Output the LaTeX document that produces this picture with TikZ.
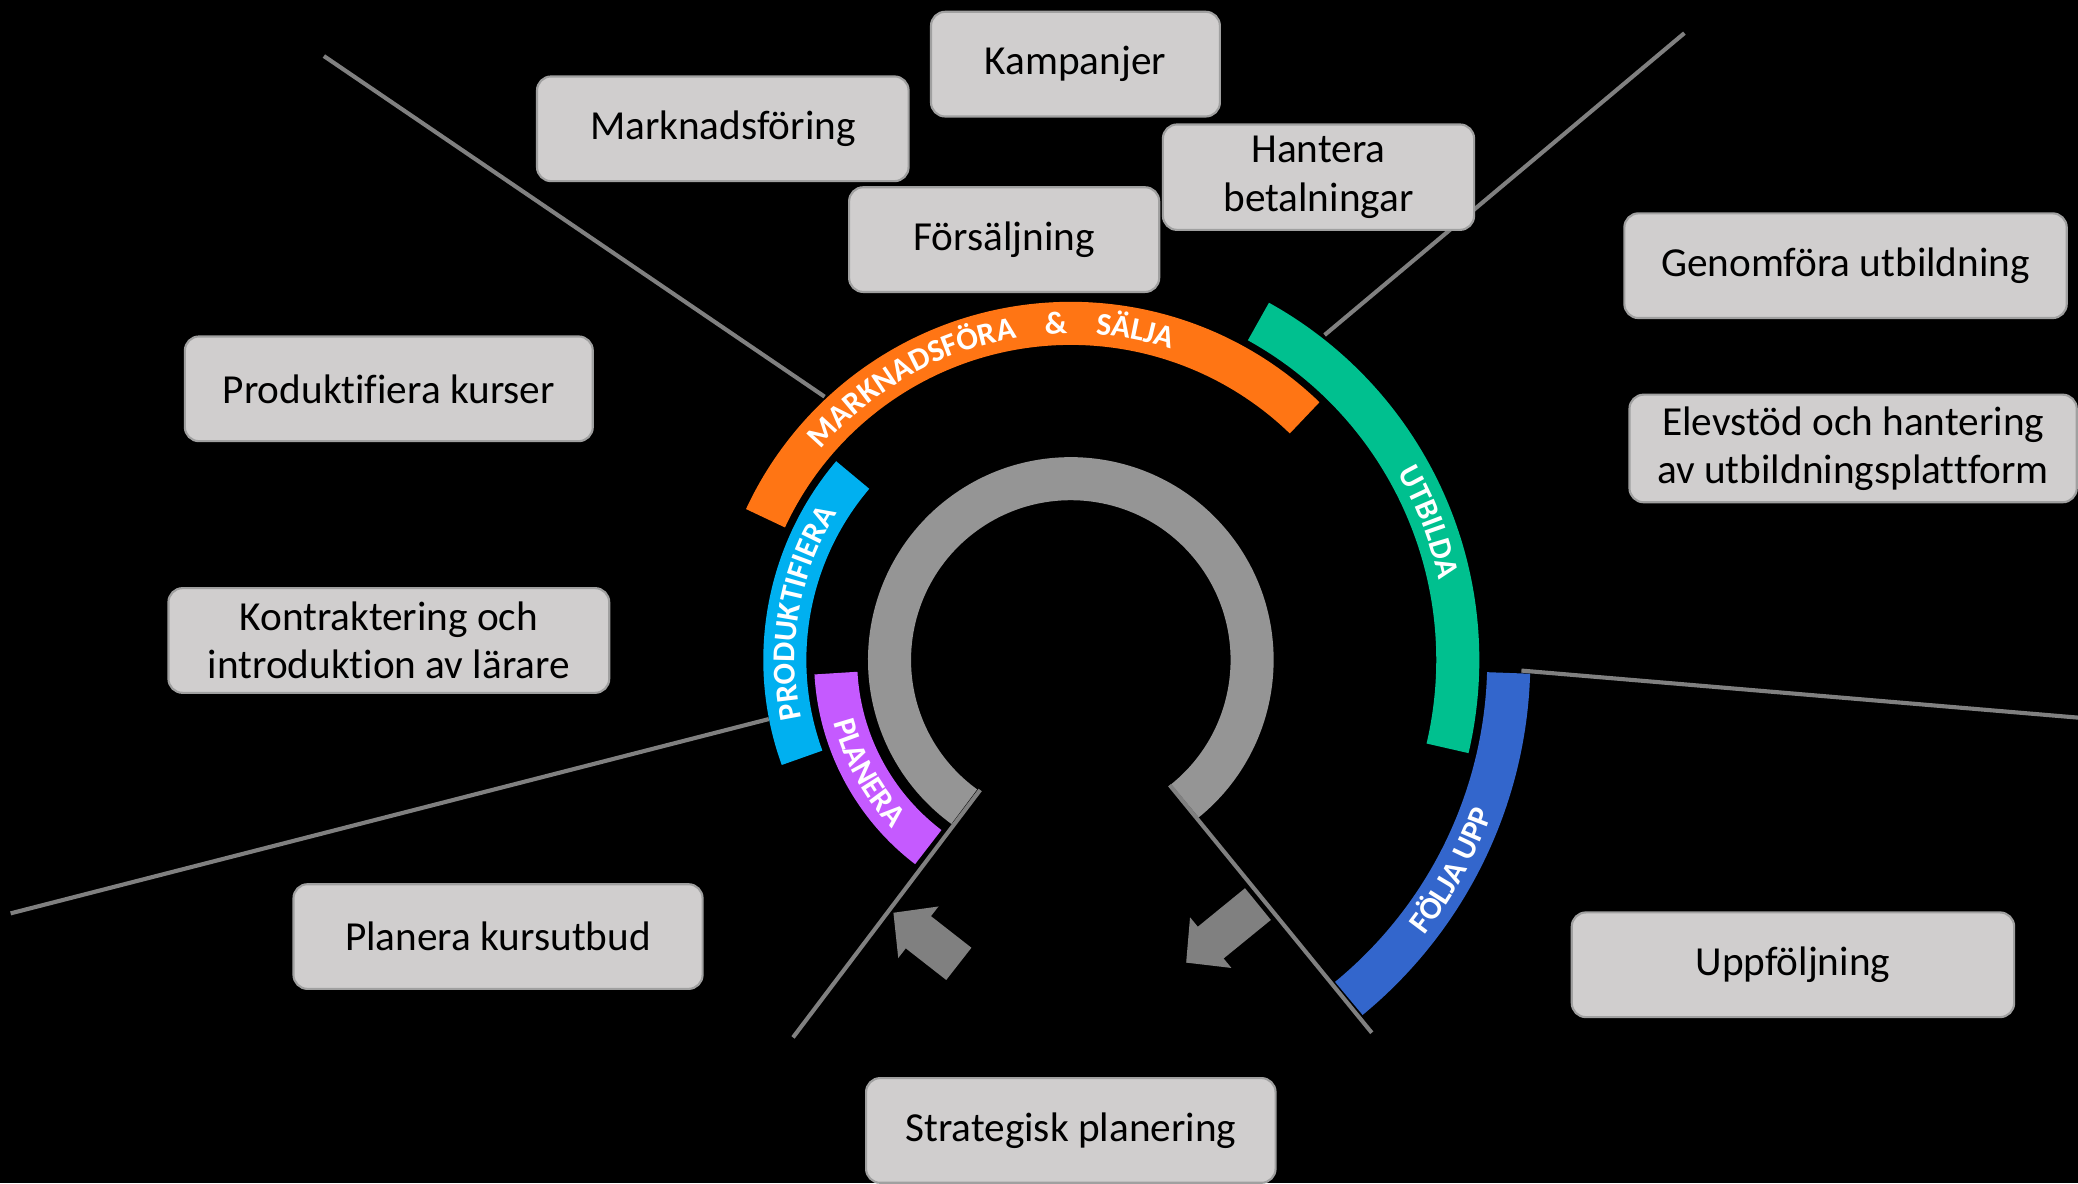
\documentclass[tikz,border=0pt]{standalone}
\usepackage{fontspec}
\setmainfont{Carlito}[Ligatures=NoCommon]
\usepackage{tikz}
\usepackage{xcolor}
\usetikzlibrary{arrows.meta,decorations.text}
\definecolor{box-fill}{RGB}{208,206,206}
\definecolor{box-line}{RGB}{160,160,160}
\definecolor{line-gray}{RGB}{128,128,128}
\definecolor{ring-gray}{RGB}{149,149,149}
\definecolor{band-orange}{RGB}{255,117,20}
\definecolor{band-green}{RGB}{0,192,143}
\definecolor{band-blue}{RGB}{51,102,204}
\definecolor{band-cyan}{RGB}{0,176,240}
\definecolor{band-purple}{RGB}{197,90,255}
\newdimen\pxu
\pxu=0.3757pt
\newcommand{\bandfont}{\fontsize{9}{10}\selectfont\bfseries\color{white}}

\begin{document}
\begin{tikzpicture}
[
x=\pxu, y=\pxu,
box-a/.style={draw=box-line, fill=box-fill, line width=0.6pt, rounded corners=4pt, minimum height=79\pxu, align=center, font=\fontsize{11.7}{13.7}\selectfont},
band-a/.style={line width=32.5\pxu},
band-text/.style={decorate, decoration={text along path, text align=center, text={|\bandfont|#1}}},
line-a/.style={draw=line-gray, line width=3.1\pxu},
flow-a/.style={draw=line-gray, line width=11.6pt, -{Triangle[length=9pt, width=18pt]}}
]
\fill[black] (0,0) rectangle (1568,893);
\useasboundingbox (0,0) rectangle (1568,893);
\coordinate (hub) at (808,395);

\draw[band-a, ring-gray]   ([shift={(-51:136.8)}]hub)   arc[start angle=-51,   end angle=234,   radius=136.8];
\draw[band-a, band-purple] ([shift={(183.2:177.5)}]hub) arc[start angle=183.2, end angle=232.7, radius=177.5];
\draw[band-a, band-cyan]   ([shift={(139.7:215.8)}]hub) arc[start angle=139.7, end angle=200,   radius=215.8];
\draw[band-a, band-orange] ([shift={(46:254)}]hub)      arc[start angle=46,    end angle=155.1, radius=254];
\draw[band-a, band-green]  ([shift={(-13.2:292)}]hub)   arc[start angle=-13.2, end angle=61,    radius=292];
\draw[band-a, band-blue]   ([shift={(-50.6:330.5)}]hub) arc[start angle=-50.6, end angle=-1.7,  radius=330.5];

\path[band-text={MARKNADSFÖRA{\kern8pt}{\&}{\kern8pt}SÄLJA}] ([shift={(158:246.3)}]hub) arc[start angle=158, end angle=54, radius=246.3];
\path[band-text={PRODUKTIFIERA}] ([shift={(200:208.1)}]hub)  arc[start angle=200, end angle=140, radius=208.1];
\path[band-text={UTBILDA}]       ([shift={(61:284.3)}]hub)   arc[start angle=61, end angle=-19, radius=284.3];
\path[band-text={FÖLJA UPP}]     ([shift={(-58.9:338.2)}]hub) arc[start angle=-58.9, end angle=1.1, radius=338.2];
\path[band-text={PLANERA}]       ([shift={(183:185.2)}]hub)  arc[start angle=183, end angle=235, radius=185.2];

\coordinate (sep-1a) at (244.4,850.7);
\coordinate (sep-1b) at (622.2,593.7);
\coordinate (sep-2a) at (1271,868);
\coordinate (sep-2b) at (999.5,640.2);
\coordinate (sep-3a) at (1148,387);
\coordinate (sep-3b) at (1568,351.5);
\coordinate (sep-4a) at (8,203.8);
\coordinate (sep-4b) at (580.1,350.4);
\coordinate (sep-5a) at (739.6,296.9);
\coordinate (sep-5b) at (598.4,110.2);
\coordinate (sep-6a) at (882.6,300.6);
\coordinate (sep-6b) at (1035.1,113.7);
\draw[line-a] (sep-1a) -- (sep-1b);
\draw[line-a] (sep-2a) -- (sep-2b);
\draw[line-a] (sep-3a) -- (sep-3b);
\draw[line-a] (sep-4a) -- (sep-4b);
\draw[line-a] (sep-5a) -- (sep-5b);
\draw[line-a] (sep-6a) -- (sep-6b);

\node (task-kamp) [box-a, minimum width = 218\pxu]   at (811.5,844.6)  {Kampanjer};
\node (task-mark) [box-a, minimum width = 280.4\pxu] at (545.4,795.8)  {Marknadsföring};
\node (task-betl) [box-a, minimum width = 234.8\pxu] at (994.9,759.3)  {Hantera\\betalningar};
\node (task-fors) [box-a, minimum width = 234\pxu]   at (757.7,712.2)  {Försäljning};
\node (task-genf) [box-a, minimum width = 333.8\pxu] at (1392.6,692.5) {Genomföra utbildning};
\node (task-prod) [box-a, minimum width = 307.8\pxu] at (293.4,599.6)  {Produktifiera kurser};
\node (task-elev) [box-a, minimum width = 337.5\pxu] at (1398.3,554.6) {Elevstöd och hantering\\av utbildningsplattform};
\node (task-kont) [box-a, minimum width = 332.6\pxu] at (293.4,409.7)  {Kontraktering och\\introduktion av lärare};
\node (task-plan) [box-a, minimum width = 308.7\pxu] at (375.8,186.3)  {Planera kursutbud};
\node (task-uppf) [box-a, minimum width = 333.8\pxu] at (1352.9,165)   {Uppföljning};
\node (task-strt) [box-a, minimum width = 309\pxu]   at (808,40)       {Strategisk planering};

\coordinate (back-l-tail) at (723.5,165.7);
\coordinate (back-l-tip)  at (674.1,204.3);
\coordinate (back-r-tail) at (949.2,210.8);
\coordinate (back-r-tip)  at (895,166.6);
\draw[flow-a] (back-l-tail) -- (back-l-tip);
\draw[flow-a] (back-r-tail) -- (back-r-tip);
\end{tikzpicture}
\end{document}
